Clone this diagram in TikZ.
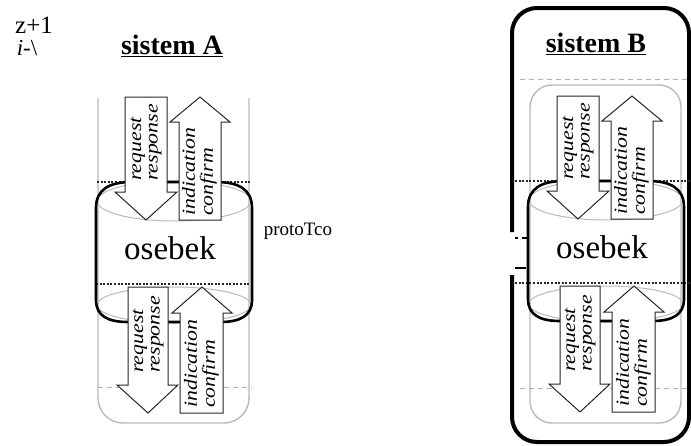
\documentclass[tikz,border=0pt]{standalone}
\usepackage{fontspec}
\setmainfont{Liberation Serif}
\usepackage{graphicx}
\tikzset{
  greybox/.style={draw=gray!55, line width=1.4pt},
  greydash/.style={draw=gray!60, line width=1pt, dash pattern=on 5pt off 4pt},
  blackdot/.style={draw=black!85, line width=1.3pt, dash pattern=on 2pt off 1.6pt},
  greyell/.style={draw=gray!55, line width=1pt},
  osebekline/.style={draw=black, line width=2.6pt},
  arrowshape/.style={draw=black!85, line width=1pt, fill=white},
  arrlabel/.style={rotate=90, anchor=west, inner sep=0pt, font=\fontsize{18.5}{16.5}\selectfont\itshape},
  biglabel/.style={inner sep=0pt, font=\fontsize{33}{36}\selectfont},
  titlelabel/.style={inner sep=0pt, font=\fontsize{28}{32}\selectfont\bfseries},
}
\newcommand\twolines[2]{\scalebox{1.18}[1]{\begin{tabular}{@{}l@{}}#1\\#2\end{tabular}}}
\newcommand\sysparts[1]{%
  % grey ellipses
  \draw[greyell] (174,201) ellipse [x radius=77pt, y radius=20pt];
  \draw[greyell] (174,305) ellipse [x radius=77pt, y radius=18pt];
  % osebek shape
  \draw[osebekline] (96,300) -- (96,208) .. controls (96,189) and (110,182) .. (132,182)
    -- (216,182) .. controls (238,182) and (252,189) .. (252,208)
    -- (252,300) .. controls (252,316) and (240,322) .. (220,322)
    -- (128,322) .. controls (108,322) and (96,316) .. (96,300) -- cycle;
  % arrows
  \draw[arrowshape] (125,97) -- (167,97) -- (167,192) -- (177,192) -- (146,220) -- (115,192) -- (125,192) -- cycle;
  \draw[arrowshape] (179,220) -- (221,220) -- (221,122) -- (230,122) -- (200,97) -- (170,122) -- (179,122) -- cycle;
  \draw[arrowshape] (128,287) -- (168,287) -- (168,385) -- (178,385) -- (148,413) -- (117,385) -- (128,385) -- cycle;
  \draw[arrowshape] (180,413) -- (223,413) -- (223,313) -- (232,313) -- (202,287) -- (172,313) -- (180,313) -- cycle;
  % labels
  \node[arrlabel] (#1rq1) at (146,181) {\twolines{request}{response}};
  \node[arrlabel] (#1ic1) at (200,216) {\twolines{indication}{confirm}};
  \node[arrlabel] (#1rq2) at (148,373) {\twolines{request}{response}};
  \node[arrlabel] (#1ic2) at (202,408) {\twolines{indication}{confirm}};
  \node[biglabel] (#1os) at (170,248) {osebek};
}
\begin{document}
\begin{tikzpicture}[x=1pt,y=-1pt]
  \useasboundingbox (0,0) rectangle (691,445);
  % ---------- top-left text ----------
  \node[inner sep=0pt, font=\fontsize{25}{28}\selectfont] (zp) at (34,25) {z+1};
  \node[inner sep=0pt, font=\fontsize{23}{26}\selectfont] (il) at (27,48) {\textit{i}-\textbackslash};
  % ---------- sistem A ----------
  \node[titlelabel] (titA) at (172,46) {\underline{sistem A}};
  \draw[greybox, rounded corners=25pt] (98,98) -- (98,423) -- (249,423) -- (249,98);
  \draw[greydash] (98,387) -- (252,387);
  \draw[blackdot] (97,182) -- (251,182);
  \draw[blackdot] (96,284) -- (252,284);
  \sysparts{a}
  \node[inner sep=0pt, font=\fontsize{19}{22}\selectfont] (proto) at (298,231) {protoTco};
  % ---------- sistem B ----------
  \draw[black, line width=4pt, rounded corners=25pt] (512,232) -- (512,8) -- (689,8) -- (689,442) -- (512,442) -- (512,275);
  \draw[black, line width=2.5pt] (515,238) -- (518,238);
  \draw[black, line width=2.5pt] (522,238) -- (528,238);
  \draw[black, line width=2.5pt] (515,268) -- (526,268);
  \node[titlelabel] (titB) at (596,44) {\underline{sistem B}};
  \draw[greydash] (520,79) -- (690,79);
  \draw[greybox, rounded corners=22pt] (530,85) rectangle (681,423);
  \draw[greydash] (520,388) -- (690,388);
  \draw[blackdot] (515,181) -- (690,181);
  \draw[blackdot] (515,283) -- (690,283);
  \begin{scope}[shift={(432,-1)}]
    \sysparts{b}
  \end{scope}
\end{tikzpicture}
\end{document}
